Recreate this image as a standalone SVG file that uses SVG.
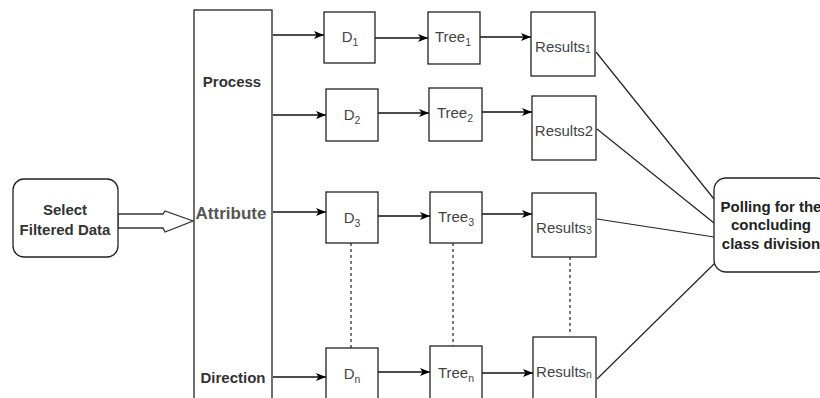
<svg xmlns="http://www.w3.org/2000/svg" width="820" height="398" viewBox="0 0 820 398">
  <defs>
    <marker id="arrow" viewBox="0 0 10 8" refX="10" refY="4" markerWidth="10" markerHeight="8" markerUnits="userSpaceOnUse" orient="auto">
      <path d="M0,0 L10,4 L0,8 L2.5,4 z" fill="#000"/>
    </marker>
    <style>
      .box { fill: #fff; stroke: #222; stroke-width: 1.3; }
      .rbox { fill: #fff; stroke: #222; stroke-width: 1.3; }
      .lbl { font-family: "Liberation Sans", Arial, sans-serif; font-size: 15px; fill: #444; text-anchor: middle; }
      .bold { font-family: "Liberation Sans", Arial, sans-serif; font-weight: bold; fill: #333; text-anchor: middle; }
      .edge { stroke: #111; stroke-width: 1.3; fill: none; marker-end: url(#arrow); }
      .line { stroke: #222; stroke-width: 1.2; fill: none; }
      .dash { stroke: #222; stroke-width: 1.2; fill: none; stroke-dasharray: 3 3; }
      .sub { font-size: 10.5px; }
    </style>
  </defs>

  <!-- connectors -->
  <g id="connectors">
    <!-- hollow block arrow into the attribute column -->
    <polygon points="118,214 163,214 165,211 193,221 165,232 163,228 118,228" fill="#fff" stroke="#333" stroke-width="1.3"/>
    <!-- attribute column to data subsets -->
    <line class="edge" x1="273" y1="35" x2="324" y2="35"/>
    <line class="edge" x1="273" y1="115" x2="326" y2="115"/>
    <line class="edge" x1="273" y1="212" x2="326" y2="212"/>
    <line class="edge" x1="273" y1="377" x2="326" y2="377"/>
    <!-- subsets to trees -->
    <line class="edge" x1="375" y1="38" x2="428" y2="38"/>
    <line class="edge" x1="378" y1="113" x2="429" y2="113"/>
    <line class="edge" x1="378" y1="216" x2="430" y2="216"/>
    <line class="edge" x1="378" y1="372" x2="430" y2="372"/>
    <!-- trees to results -->
    <line class="edge" x1="480" y1="37" x2="531" y2="37"/>
    <line class="edge" x1="482" y1="112" x2="532" y2="112"/>
    <line class="edge" x1="482" y1="214" x2="532" y2="214"/>
    <line class="edge" x1="482" y1="373" x2="533" y2="373"/>
    <!-- ellipsis between row 3 and row n -->
    <line class="dash" x1="351" y1="243" x2="351" y2="348"/>
    <line class="dash" x1="453" y1="243" x2="453" y2="346"/>
    <line class="dash" x1="570" y1="257" x2="570" y2="335"/>
    <!-- results to polling -->
    <line class="line" x1="596" y1="52" x2="714" y2="199"/>
    <line class="line" x1="597" y1="129" x2="714" y2="223"/>
    <line class="line" x1="597" y1="219" x2="714" y2="237"/>
    <line class="line" x1="597" y1="379" x2="714" y2="264"/>
  </g>

  <g id="select">
    <rect class="rbox" x="13" y="179" width="105" height="78" rx="11"/>
    <text class="bold" font-size="15" x="65" y="215">Select</text>
    <text class="bold" font-size="15" x="65" y="235">Filtered Data</text>
  </g>

  <g id="attributes">
    <rect class="box" x="194" y="10" width="78" height="400"/>
    <text class="bold" font-size="15" x="232" y="87">Process</text>
    <text class="bold" font-size="17" x="231" y="219" style="fill:#555">Attribute</text>
    <text class="bold" font-size="15" x="233" y="383">Direction</text>
  </g>

  <g id="d1">
    <rect class="box" x="324" y="12" width="51" height="51"/>
    <text class="lbl" x="350" y="42">D<tspan class="sub" dy="4">1</tspan></text>
  </g>
  <g id="d2">
    <rect class="box" x="326" y="89" width="52" height="52"/>
    <text class="lbl" x="352" y="120">D<tspan class="sub" dy="4">2</tspan></text>
  </g>
  <g id="d3">
    <rect class="box" x="326" y="192" width="52" height="51"/>
    <text class="lbl" x="352" y="223">D<tspan class="sub" dy="4">3</tspan></text>
  </g>
  <g id="dn">
    <rect class="box" x="326" y="348" width="52" height="55"/>
    <text class="lbl" x="352" y="379">D<tspan class="sub" dy="4">n</tspan></text>
  </g>

  <g id="tree1">
    <rect class="box" x="428" y="12" width="52" height="52"/>
    <text class="lbl" x="453" y="42">Tree<tspan class="sub" dy="4">1</tspan></text>
  </g>
  <g id="tree2">
    <rect class="box" x="429" y="88" width="53" height="53"/>
    <text class="lbl" x="455" y="118">Tree<tspan class="sub" dy="4">2</tspan></text>
  </g>
  <g id="tree3">
    <rect class="box" x="430" y="192" width="52" height="51"/>
    <text class="lbl" x="456" y="222">Tree<tspan class="sub" dy="4">3</tspan></text>
  </g>
  <g id="treen">
    <rect class="box" x="430" y="346" width="52" height="57"/>
    <text class="lbl" x="456" y="378">Tree<tspan class="sub" dy="4">n</tspan></text>
  </g>

  <g id="results1">
    <rect class="box" x="531" y="12" width="64" height="64"/>
    <text class="lbl" x="563" y="52">Results<tspan class="sub" dy="1">1</tspan></text>
  </g>
  <g id="results2">
    <rect class="box" x="532" y="96" width="64" height="64"/>
    <text class="lbl" x="564" y="136">Results2</text>
  </g>
  <g id="results3">
    <rect class="box" x="532" y="193" width="64" height="64"/>
    <text class="lbl" x="564" y="233">Results<tspan class="sub" dy="1">3</tspan></text>
  </g>
  <g id="resultsn">
    <rect class="box" x="533" y="337" width="63" height="66"/>
    <text class="lbl" x="564" y="377">Results<tspan class="sub" dy="1">n</tspan></text>
  </g>

  <g id="polling">
    <rect class="rbox" x="714" y="178" width="114" height="94" rx="12"/>
    <text class="bold" font-size="15" x="771" y="212" style="fill:#222">Polling for the</text>
    <text class="bold" font-size="15" x="771" y="230" style="fill:#222">concluding</text>
    <text class="bold" font-size="15" x="771" y="249" style="fill:#222">class division</text>
  </g>
</svg>
